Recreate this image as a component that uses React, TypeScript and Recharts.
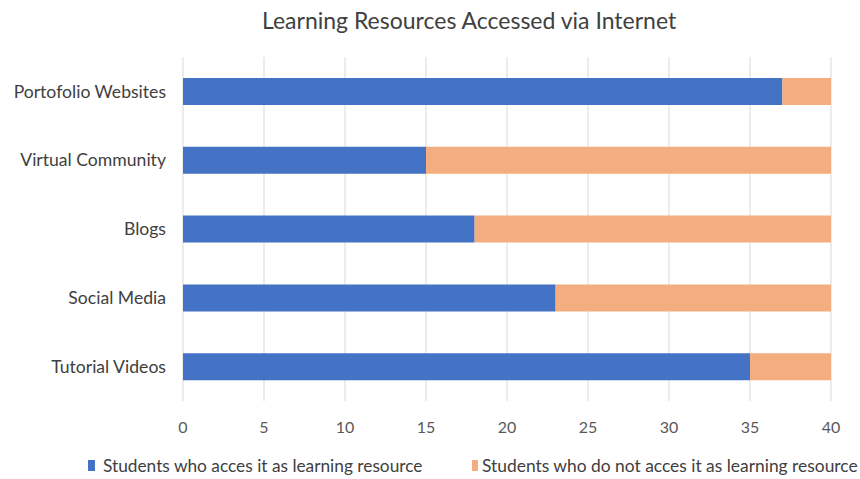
import React from 'react';
import { BarChart, Bar, XAxis, YAxis, CartesianGrid } from 'recharts';

const categories = ['Portofolio Websites', 'Virtual Community', 'Blogs', 'Social Media', 'Tutorial Videos'];
const accessValues = [37, 15, 18, 23, 35];
const notAccessValues = [3, 25, 22, 17, 5];
const xTicks = [0, 5, 10, 15, 20, 25, 30, 35, 40];
const seriesNames = ['Students who acces it as learning resource', 'Students who do not acces it as learning resource'];
const title = 'Learning Resources Accessed via Internet';

const data = categories.map((c, i) => ({ name: c, access: accessValues[i], notAccess: notAccessValues[i] }));

const FONT = 'Lato, "Open Sans", sans-serif';
const BLUE = '#4472C4';
const ORANGE = '#F3AD7F';

export default function App() {
  return (
    <div style={{ position: 'absolute', left: 0, top: 0, width: 860, height: 479, background: '#fff' }}>
      <div style={{ position: 'absolute', left: 262, top: 6, whiteSpace: 'nowrap', fontFamily: FONT, fontSize: 23, color: '#404040' }}>
        {title}
      </div>
      <BarChart
        width={860}
        height={479}
        data={data}
        layout="vertical"
        margin={{ top: 57, right: 29, bottom: 48, left: 0 }}
        barCategoryGap="30.5%"
      >
        <CartesianGrid horizontal={false} vertical={true} stroke="#d9d9d9" />
        <XAxis
          type="number"
          domain={[0, 40]}
          ticks={xTicks}
          height={30}
          axisLine={false}
          tickLine={false}
          tickSize={0}
          tickMargin={21}
          tick={{ fill: '#595959', fontSize: 16, fontFamily: FONT }}
        />
        <YAxis
          type="category"
          dataKey="name"
          width={183}
          axisLine={false}
          tickLine={false}
          tickSize={0}
          tickMargin={17}
          tick={{ fill: '#404040', fontSize: 17.6, fontFamily: FONT }}
        />
        <Bar dataKey="access" stackId="a" fill={BLUE} name={seriesNames[0]} isAnimationActive={false} />
        <Bar dataKey="notAccess" stackId="a" fill={ORANGE} name={seriesNames[1]} isAnimationActive={false} />
      </BarChart>
      <div style={{ position: 'absolute', left: 88, top: 455, display: 'flex', alignItems: 'center', fontFamily: FONT, fontSize: 17.3, color: '#404040', whiteSpace: 'nowrap' }}>
        <span style={{ display: 'inline-block', width: 7, height: 11, background: BLUE, marginRight: 8 }} />
        <span>{seriesNames[0]}</span>
      </div>
      <div style={{ position: 'absolute', left: 472, top: 455, display: 'flex', alignItems: 'center', fontFamily: FONT, fontSize: 17.4, color: '#404040', whiteSpace: 'nowrap' }}>
        <span style={{ display: 'inline-block', width: 6, height: 11, background: ORANGE, marginRight: 4 }} />
        <span>{seriesNames[1]}</span>
      </div>
    </div>
  );
}
